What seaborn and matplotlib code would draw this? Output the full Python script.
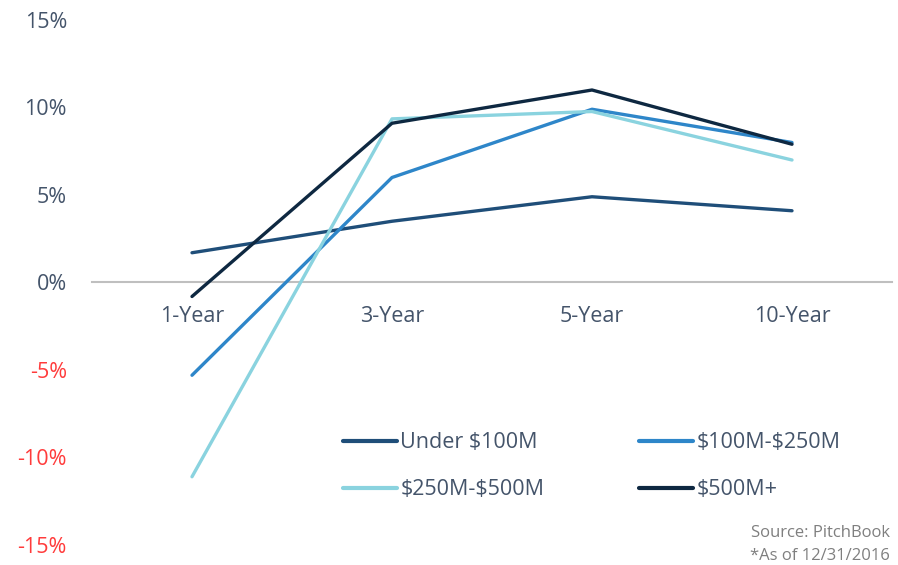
import matplotlib
matplotlib.use("Agg")
import matplotlib.pyplot as plt
import seaborn as sns
import pandas as pd
from matplotlib.lines import Line2D

periods = ["1-Year", "3-Year", "5-Year", "10-Year"]
series_names = ["Under $100M", "$100M-$250M", "$250M-$500M", "$500M+"]
under_100m = [1.7, 3.5, 4.9, 4.1]
m100_250 = [-5.3, 6.0, 9.9, 8.0]
m250_500 = [-11.1, 9.35, 9.77, 7.0]
m500_plus = [-0.8, 9.1, 11.0, 7.9]
y_ticks = [-15, -10, -5, 0, 5, 10, 15]
colors = ["#1f4e79", "#2e86c9", "#8ad3df", "#0e2841"]

values = [under_100m, m100_250, m250_500, m500_plus]
rows = []
for name, vals in zip(series_names, values):
    for p, v in zip(periods, vals):
        rows.append({"Period": p, "Series": name, "Return": v})
df = pd.DataFrame(rows)

sns.set_theme(style="white")
plt.rcParams['font.family'] = ['Open Sans', 'DejaVu Sans']
plt.rcParams['text.parse_math'] = False

fig = plt.figure(figsize=(8.98, 5.65), dpi=100)
ax = fig.add_axes([92/898, 1-545/565, 800/898, 525/565])

sns.lineplot(data=df, x="Period", y="Return", hue="Series", palette=colors,
             hue_order=series_names, linewidth=2.4, ax=ax, sort=False,
             legend=False)
for line in ax.lines:
    line.set_solid_capstyle('round')

ax.set_xlim(-0.5, 3.5)
ax.set_ylim(-15, 15)
ax.set_yticks(y_ticks)
ax.set_yticklabels([f"{t}%" for t in y_ticks])
ax.set_xlabel("")
ax.set_ylabel("")

for s in ["top", "right", "left"]:
    ax.spines[s].set_visible(False)
ax.spines["bottom"].set_position(("data", 0))
ax.spines["bottom"].set_color("#bfbfbf")
ax.spines["bottom"].set_linewidth(1.5)
ax.spines["bottom"].set_zorder(0)

ax.tick_params(axis="x", length=0, pad=17, labelsize=15.5, colors="#44546a")
ax.tick_params(axis="y", length=0, pad=18, labelsize=15.5, colors="#44546a")
for lab, t in zip(ax.get_yticklabels(), y_ticks):
    lab.set_color("#ff3b3b" if t < 0 else "#44546a")

# legend filled row-wise like the reference
order = [0, 2, 1, 3]
handles = [Line2D([0], [0], color=colors[i], lw=3) for i in order]
labels = [series_names[i] for i in order]
leg = fig.legend(handles, labels, ncol=2, loc="upper left",
                 bbox_to_anchor=(324/898, 1-413/565), frameon=False,
                 fontsize=15.5, handlelength=2.5, handletextpad=0.15,
                 columnspacing=4.4, labelspacing=1.2)
for t in leg.get_texts():
    t.set_color("#44546a")

fig.text(890/898, 1-533/565, "Source: PitchBook", ha="right", va="center",
         fontsize=12, color="#7f7f7f")
fig.text(890/898, 1-556/565, "*As of 12/31/2016", ha="right", va="center",
         fontsize=12, color="#7f7f7f")

fig.savefig("out.png", dpi=100)
